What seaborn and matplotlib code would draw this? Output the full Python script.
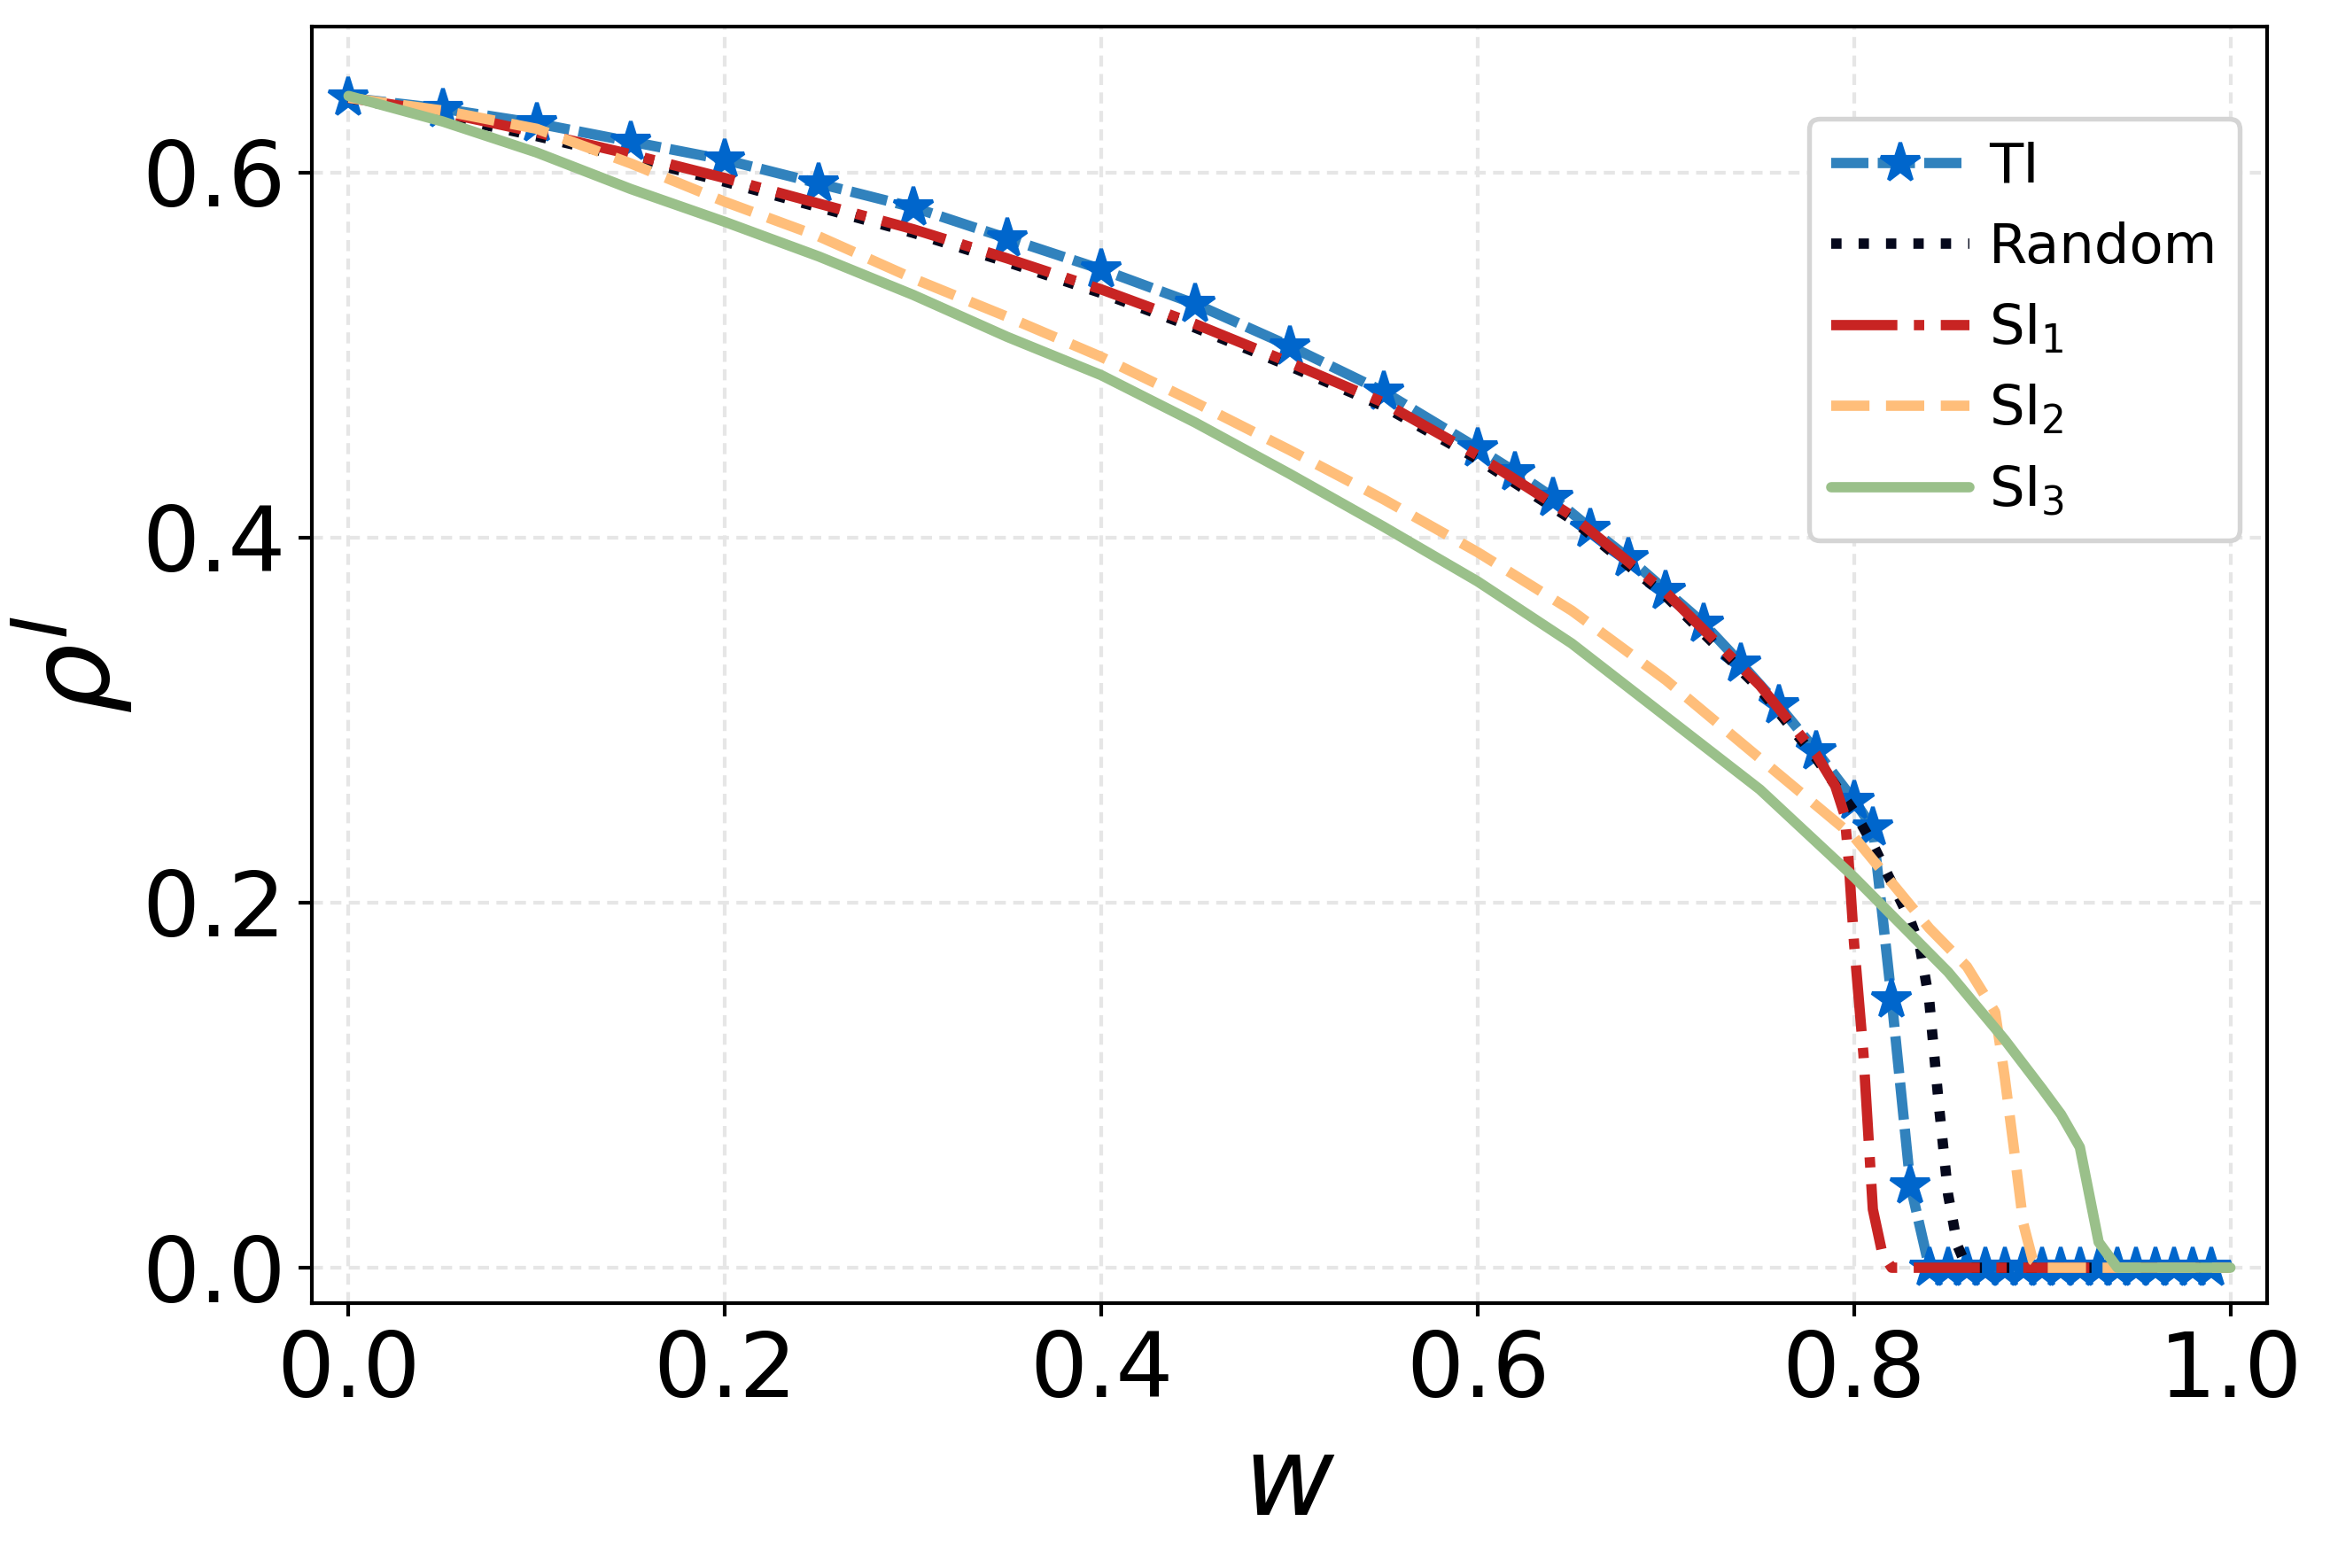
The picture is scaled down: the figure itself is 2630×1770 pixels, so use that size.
import matplotlib
matplotlib.use("Agg")
import matplotlib.pyplot as plt
import seaborn as sns

# ---------------- data ----------------
w_ti = [0.00, 0.05, 0.10, 0.15, 0.20, 0.25, 0.30, 0.35, 0.40, 0.45, 0.50, 0.55, 0.60,
        0.62, 0.64, 0.66, 0.68, 0.70, 0.72, 0.74, 0.76, 0.78,
        0.80, 0.81, 0.82, 0.83, 0.84, 0.85, 0.86, 0.87, 0.88, 0.89, 0.90, 0.91,
        0.92, 0.93, 0.94, 0.95, 0.96, 0.97, 0.98, 0.99]
rho_ti = [0.641, 0.635, 0.627, 0.617, 0.607, 0.594, 0.581, 0.564, 0.547, 0.528, 0.505, 0.480, 0.449,
          0.436, 0.422, 0.405, 0.389, 0.371, 0.353, 0.331, 0.308, 0.283,
          0.256, 0.241, 0.147, 0.045, 0.0, 0.0, 0.0, 0.0, 0.0, 0.0, 0.0, 0.0,
          0.0, 0.0, 0.0, 0.0, 0.0, 0.0, 0.0, 0.0]

w_random = [0.00, 0.05, 0.10, 0.15, 0.20, 0.25, 0.30, 0.35, 0.40, 0.45, 0.50, 0.55, 0.60,
            0.65, 0.70, 0.75, 0.78, 0.80, 0.81, 0.82, 0.83, 0.835, 0.84, 0.845, 0.85, 0.855,
            0.86, 0.90, 0.95, 1.00]
rho_random = [0.641, 0.631, 0.620, 0.608, 0.595, 0.581, 0.567, 0.551, 0.534, 0.515, 0.494, 0.472, 0.443,
              0.410, 0.368, 0.317, 0.279, 0.250, 0.232, 0.211, 0.190, 0.176, 0.146, 0.090, 0.040, 0.012,
              0.0, 0.0, 0.0, 0.0]

w_si1 = [0.00, 0.05, 0.10, 0.15, 0.20, 0.25, 0.30, 0.35, 0.40, 0.45, 0.50, 0.55, 0.60,
         0.65, 0.70, 0.75, 0.78, 0.79, 0.795, 0.797, 0.80, 0.805, 0.81, 0.815, 0.82,
         0.90, 0.95, 1.00]
rho_si1 = [0.641, 0.633, 0.622, 0.610, 0.597, 0.583, 0.569, 0.553, 0.536, 0.517, 0.496, 0.474, 0.445,
           0.412, 0.370, 0.319, 0.281, 0.264, 0.248, 0.225, 0.178, 0.117, 0.032, 0.008, 0.0,
           0.0, 0.0, 0.0]

w_si2 = [0.00, 0.05, 0.10, 0.15, 0.20, 0.25, 0.30, 0.35, 0.40, 0.45, 0.50, 0.55, 0.60,
         0.65, 0.70, 0.75, 0.80, 0.84, 0.86, 0.875, 0.88, 0.885, 0.89, 0.895, 0.90,
         0.95, 1.00]
rho_si2 = [0.641, 0.634, 0.624, 0.605, 0.584, 0.565, 0.542, 0.521, 0.499, 0.474, 0.448, 0.421, 0.392,
           0.360, 0.322, 0.279, 0.236, 0.186, 0.165, 0.140, 0.105, 0.065, 0.024, 0.004, 0.0,
           0.0, 0.0]

w_si3 = [0.00, 0.05, 0.10, 0.15, 0.20, 0.25, 0.30, 0.35, 0.40, 0.45, 0.50, 0.55, 0.60,
         0.65, 0.70, 0.75, 0.80, 0.85, 0.88, 0.90, 0.91, 0.92, 0.93, 0.94, 0.95, 1.00]
rho_si3 = [0.642, 0.628, 0.611, 0.591, 0.573, 0.554, 0.533, 0.510, 0.489, 0.463, 0.435, 0.406, 0.376,
           0.342, 0.302, 0.262, 0.214, 0.162, 0.125, 0.098, 0.084, 0.066, 0.014, 0.0, 0.0, 0.0]

labels = ["TI", "Random", r"SI$_1$", r"SI$_2$", r"SI$_3$"]
x_ticks = [0.0, 0.2, 0.4, 0.6, 0.8, 1.0]
y_ticks = [0.0, 0.2, 0.4, 0.6]

# ---------------- style ----------------
sns.set_theme(style="whitegrid")
plt.rcParams["font.family"] = ["DejaVu Sans"]
plt.rcParams["mathtext.fontset"] = "dejavusans"
plt.rcParams["text.color"] = "black"
plt.rcParams["axes.labelcolor"] = "black"
plt.rcParams["xtick.color"] = "black"
plt.rcParams["ytick.color"] = "black"

fig = plt.figure(figsize=(2630 / 300, 1770 / 300), dpi=300)
ax = fig.add_axes([352 / 2630, 1 - 1471 / 1770, (2559 - 352) / 2630, (1471 - 30) / 1770])

lw = 2.8
sns.lineplot(x=w_ti, y=rho_ti, ax=ax, color="#3182bd", linewidth=lw,
             linestyle=(0, (3.6, 0.9)), marker="*", markersize=11,
             markerfacecolor="#0066cc", markeredgecolor="#0066cc", markeredgewidth=1.0,
             label=labels[0])
sns.lineplot(x=w_random, y=rho_random, ax=ax, color="#05081c", linewidth=lw,
             linestyle=":", label=labels[1])
sns.lineplot(x=w_si1, y=rho_si1, ax=ax, color="#c82423", linewidth=lw,
             linestyle="-.", label=labels[2])
sns.lineplot(x=w_si2, y=rho_si2, ax=ax, color="#ffbe7a", linewidth=lw,
             linestyle="--", label=labels[3])
sns.lineplot(x=w_si3, y=rho_si3, ax=ax, color="#9ac08a", linewidth=lw,
             linestyle="-", label=labels[4])

ax.set_xlim(-0.0195, 1.0195)
ax.set_ylim(-0.0194, 0.680)
ax.set_xticks(x_ticks)
ax.set_yticks(y_ticks)
ax.set_xticklabels([f"{v:.1f}" for v in x_ticks])
ax.set_yticklabels([f"{v:.1f}" for v in y_ticks])
ax.tick_params(axis="both", which="major", labelsize=24.5, length=3.5, width=1.0,
               direction="out", color="black", labelcolor="black",
               left=True, bottom=True, pad=3.5)

for s in ax.spines.values():
    s.set_color("black")
    s.set_linewidth(1.0)
ax.set_facecolor("white")
ax.grid(True, linestyle=(0, (3, 2)), color="#e6e6e6", linewidth=1.0)

ax.set_xlabel(r"$w$", fontsize=30, labelpad=4, color="black")
ax.set_ylabel(r"$\rho^I$", fontsize=30, labelpad=2, color="black")

leg = ax.legend(loc="upper right", bbox_to_anchor=(0.986, 0.928), borderaxespad=0,
                fontsize=15, frameon=True, fancybox=True, framealpha=1.0,
                edgecolor="#d5d5d5", handlelength=2.5, handletextpad=0.35,
                labelspacing=0.5)
leg.get_frame().set_linewidth(1.3)
for t in leg.get_texts():
    t.set_color("black")

fig.savefig("out.png", dpi=300, facecolor="white")
